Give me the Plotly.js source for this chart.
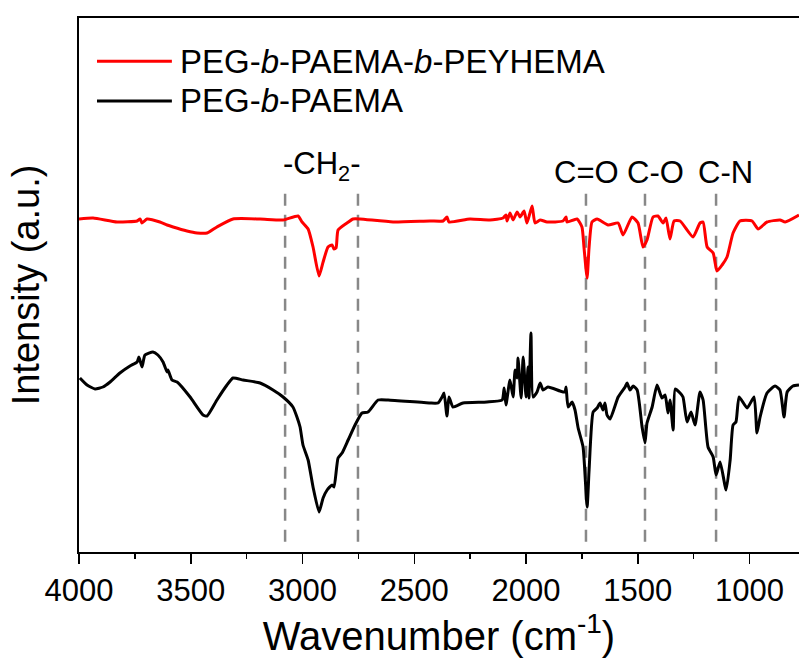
<!DOCTYPE html>
<html>
<head>
<meta charset="utf-8">
<script src="https://cdn.plot.ly/plotly-3.0.1.min.js"></script>
<style>html,body{margin:0;padding:0;background:#fff;}#chart{width:799px;height:660px;}</style>
</head>
<body>
<div id="chart"></div>
<script>
// Wavenumber (cm-1) and intensity (a.u.)
const redWavenumber = [4000,3937,3830,3740,3727,3718,3696,3638,3606,3579,3517,3472,3427,3383,3311,3190,3087,3020,3002,2975,2953,2926,2908,2886,2868,2859,2850,2841,2801,2774,2743,2595,2430,2371,2354,2345,2251,2161,2103,2090,2085,2072,2058,2040,2027,2009,1996,1973,1960,1937,1906,1835,1821,1817,1772,1750,1741,1727,1718,1705,1682,1633,1588,1566,1526,1499,1477,1459,1432,1410,1387,1374,1356,1338,1311,1253,1222,1208,1190,1163,1146,1123,1101,1074,1043,989,962,922,864,841,779];
const redIntensity = [333,334,330,331,333,329,333,330,327,325,321,319,319,325,333,333,332,336,330,323,305,276,290,305,307,303,304,322,329,333,333,330,331,331,335,330,333,332,334,337,331,339,332,340,335,341,329,346,329,332,330,331,335,330,333,325,305,274,305,330,333,327,329,317,335,329,305,312,335,336,329,334,313,331,331,315,329,330,305,299,281,287,295,319,331,331,323,330,332,330,337];

const blackWavenumber = [3996,3964,3928,3893,3861,3817,3772,3740,3732,3718,3705,3669,3647,3624,3606,3602,3584,3561,3503,3445,3427,3383,3338,3311,3266,3190,3132,3087,3043,3025,3011,2998,2975,2953,2926,2908,2890,2868,2859,2841,2823,2796,2765,2734,2707,2662,2617,2430,2394,2376,2367,2354,2345,2327,2282,2175,2107,2098,2090,2072,2058,2049,2040,2036,2022,2013,2000,1991,1987,1978,1969,1951,1937,1924,1902,1848,1826,1821,1812,1794,1781,1767,1745,1727,1718,1700,1682,1669,1656,1647,1638,1624,1588,1557,1548,1535,1521,1503,1481,1468,1459,1436,1414,1392,1378,1365,1356,1342,1333,1311,1298,1280,1262,1244,1222,1208,1186,1163,1150,1132,1105,1087,1074,1061,1047,1011,980,967,953,922,886,864,846,832,806,779];
const blackIntensity = [174,167,163,165,170,179,186,190,195,185,197,200,197,190,180,182,172,170,155,137,136,152,167,174,172,169,162,155,145,135,125,107,92,65,40,54,62,67,65,94,99,112,127,139,140,152,152,149,149,155,159,136,155,145,149,150,152,164,147,172,155,182,174,194,154,195,155,185,154,219,155,160,169,162,165,161,160,165,145,150,142,124,105,45,82,140,144,149,142,149,137,133,155,165,169,162,166,162,125,109,129,145,167,154,157,139,152,122,163,159,155,130,140,127,160,152,105,95,77,90,62,92,127,130,155,144,155,119,135,159,166,162,135,160,166,167];

const seriesNames = ['PEG-<i>b</i>-PAEMA-<i>b</i>-PEYHEMA', 'PEG-<i>b</i>-PAEMA'];
const seriesColors = ['#ff0000', '#000000'];

const bandPositions = [3078, 2752, 1732, 1468, 1150];
const bandLabels = ['-CH<sub>2</sub>-', 'C=O', 'C-O', 'C-N'];
const bandLabelPositions = [2915, 1729, 1423, 1107];

const xTickVals = [4000, 3500, 3000, 2500, 2000, 1500, 1000];

const FONT = 'Arial, "Liberation Sans", sans-serif';

const traces = [
  {x: redWavenumber, y: redIntensity, type: 'scatter', mode: 'lines', name: seriesNames[0],
   line: {color: seriesColors[0], width: 3, shape: 'spline', smoothing: 0.5}, showlegend: false},
  {x: blackWavenumber, y: blackIntensity, type: 'scatter', mode: 'lines', name: seriesNames[1],
   line: {color: seriesColors[1], width: 3, shape: 'spline', smoothing: 0.5}, showlegend: false}
];

const shapes = bandPositions.map(p => ({
  type: 'line', xref: 'x', yref: 'paper', x0: p, x1: p, y0: 0.019, y1: 0.682,
  line: {color: '#888888', width: 2.5, dash: '12px,9px'}, layer: 'below'
}));
// legend lines
[0.919, 0.8446].forEach((yy, i) => shapes.push({
  type: 'line', xref: 'paper', yref: 'paper', x0: 0.025, x1: 0.129, y0: yy, y1: yy,
  line: {color: seriesColors[i], width: 3}
}));

const annotations = bandLabels.map((t, i) => ({
  x: bandLabelPositions[i], y: i === 0 ? 0.722 : 0.711, xref: 'x', yref: 'paper',
  text: t, showarrow: false, xanchor: 'center', yanchor: 'middle',
  font: {family: FONT, size: 31, color: '#000'}
}));
[0.919, 0.8446].forEach((yy, i) => annotations.push({
  x: 0.1375, y: yy, xref: 'paper', yref: 'paper', text: seriesNames[i],
  showarrow: false, xanchor: 'left', yanchor: 'middle',
  font: {family: FONT, size: 33, color: '#000'}
}));

const layout = {
  width: 799, height: 660,
  margin: {l: 79, r: 0, t: 18, b: 108},
  paper_bgcolor: '#fff', plot_bgcolor: '#fff',
  showlegend: false,
  xaxis: {
    range: [4000, 779], tickvals: xTickVals, ticks: 'outside', ticklen: 10, tickwidth: 1.5,
    tickcolor: '#000', showline: true, linecolor: '#000', linewidth: 2, mirror: true,
    showgrid: false, zeroline: false,
    minor: {dtick: 250, tick0: 0, ticks: 'outside', ticklen: 5, tickwidth: 1.5, tickcolor: '#000', showgrid: false},
    tickfont: {family: FONT, size: 31, color: '#000'},
    title: {text: 'Wavenumber (cm<sup>-1</sup>)', font: {family: FONT, size: 40, color: '#000'}, standoff: 8}
  },
  yaxis: {
    range: [0, 534], showticklabels: false, ticks: '', showline: true, linecolor: '#000', linewidth: 2,
    showgrid: false, zeroline: false,
    title: {text: 'Intensity (a.u.)', font: {family: FONT, size: 38, color: '#000'}, standoff: 26}
  },
  shapes: shapes,
  annotations: annotations
};

Plotly.newPlot('chart', traces, layout, {displayModeBar: false, staticPlot: true});
</script>
</body>
</html>
